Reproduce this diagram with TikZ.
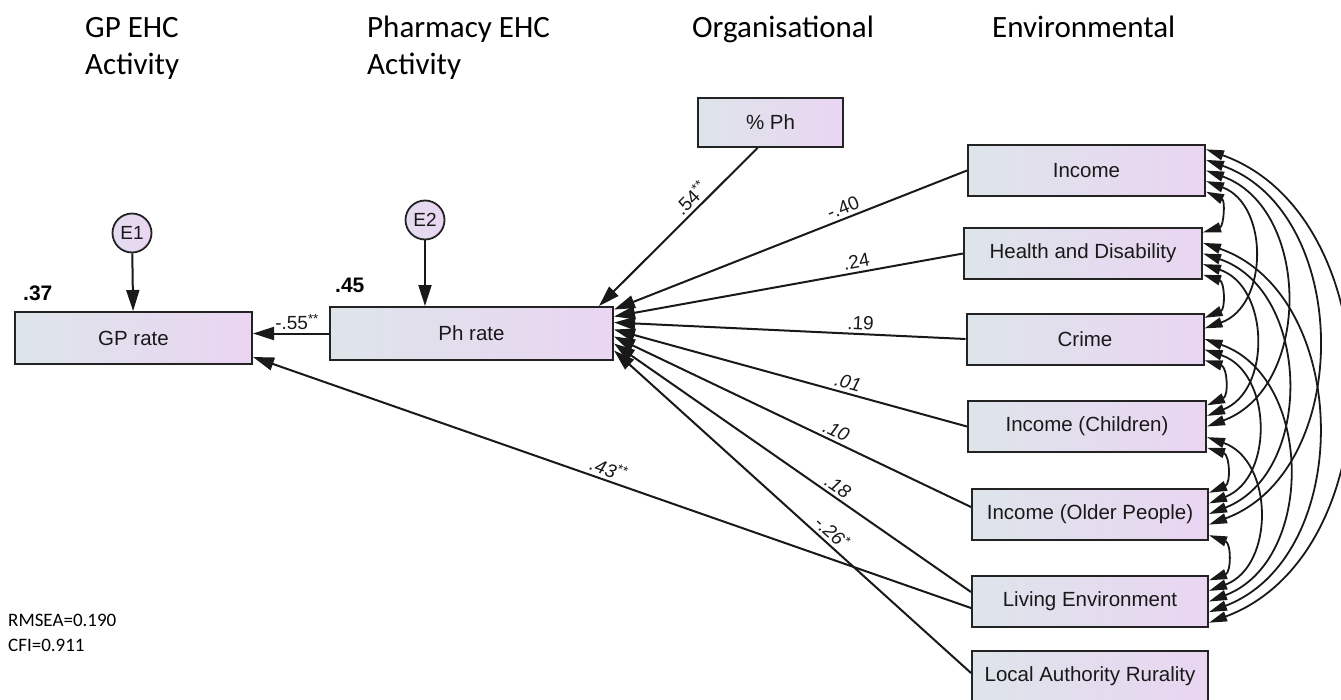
\documentclass[tikz,border=0pt]{standalone}
\usepackage{fontspec}
\newfontfamily\calfont{Carlito}
\newfontfamily\arialfont{Liberation Sans}
\usepackage{tikz}
\usetikzlibrary{arrows.meta,calc}
\definecolor{boxleft}{RGB}{221,229,234}
\definecolor{boxright}{RGB}{234,213,242}
\definecolor{edge}{RGB}{35,35,35}
\tikzset{
  var/.style={draw=edge, line width=2pt, left color=boxleft, right color=boxright, minimum width=237pt, minimum height=51pt, inner sep=0pt, font=\arialfont\fontsize{20.5}{24}\selectfont, text=black!90},
  err/.style={circle, draw=edge, line width=1.8pt, left color=boxleft!50!boxright, right color=boxright, minimum size=39pt, inner sep=0pt, font=\arialfont\fontsize{19}{22}\selectfont, text=black!90},
  reg/.style={-{Triangle[length=21pt,width=13pt]}, line width=2pt, draw=black!90},
  cov/.style={{Triangle[length=18pt,width=10pt]}-{Triangle[length=18pt,width=10pt]}, line width=1.8pt, draw=black!90, bend left=70},
  coef/.style={font=\arialfont\fontsize{19}{22}\selectfont, sloped, above, inner sep=3pt, text=black!90},
  ital/.style={font=\arialfont\itshape\fontsize{19}{22}\selectfont},
  head/.style={font=\calfont\fontsize{31}{37}\selectfont, align=left, anchor=base west, inner sep=0pt},
  rsq/.style={font=\arialfont\bfseries\fontsize{21}{24}\selectfont, anchor=base west, inner sep=0pt},
  stat/.style={font=\calfont\fontsize{19}{25}\selectfont, align=left, anchor=base west, inner sep=0pt}}

\begin{document}
\begin{tikzpicture}[x=1pt,y=1pt]
  \useasboundingbox (0,0) rectangle (1341,-699);
  % headings (base = last line)
  \node[head] (hgp) at (85,-74) {GP EHC\\Activity};
  \node[head] (hph) at (367,-74) {Pharmacy EHC\\Activity};
  \node[head] (horg) at (692,-37) {Organisational};
  \node[head] (henv) at (992,-37) {Environmental};
  % observed variables
  \node[var, minimum height=52pt] (gp) at (133.5,-338) {GP rate};
  \node[var, minimum width=283pt, minimum height=53pt] (ph) at (471.5,-333.5) {Ph rate};
  \node[var, minimum width=145pt, minimum height=49pt] (pph) at (770.5,-122.5) {\% Ph};
  \node[var] (v1) at (1086.5,-170.5) {Income};
  \node[var, minimum width=238pt] (v2) at (1083,-253.5) {Health and Disability};
  \node[var] (v3) at (1085,-339) {Crime};
  \node[var, minimum width=238pt] (v4) at (1087,-426.5) {Income (Children)};
  \node[var, minimum width=236pt] (v5) at (1090,-514) {Income (Older People)};
  \node[var, minimum width=236pt] (v6) at (1090,-601.5) {Living Environment};
  \node[var, minimum width=236pt] (lar) at (1090,-676.5) {Local Authority Rurality};
  % errors and R squared
  \node[err] (e1) at (132,-233) {E1};
  \node[err] (e2) at (425,-220) {E2};
  \node[rsq] (r1) at (23,-300) {.37};
  \node[rsq] (r2) at (335,-292) {.45};
  % regression paths
  \draw[reg] (e1) -- (gp);
  \draw[reg] (e2) -- (e2 |- ph.north);
  \draw[reg] (ph.west) -- node[coef, pos=0.42] {-.55\textsuperscript{**}} (gp.east |- ph.west);
  \draw[reg] ([xshift=-13pt]pph.south) -- node[coef, pos=0.37] {.54\textsuperscript{**}} ([xshift=-15pt]ph.north east);
  \draw[reg] (v1.west) -- node[coef, pos=0.34] {-.40} ([yshift=24pt]ph.east);
  \draw[reg] (v2.west) -- node[coef, pos=0.30] {.24} ([yshift=17pt]ph.east);
  \draw[reg] (v3.west) -- node[coef, pos=0.30] {.19} ([yshift=11pt]ph.east);
  \draw[reg] (v4.west) -- node[coef, ital, pos=0.345] {.01} ([yshift=4pt]ph.east);
  \draw[reg] ([yshift=7pt]v5.west) -- node[coef, ital, pos=0.39] {.10} ([yshift=-3pt]ph.east);
  \draw[reg] ([yshift=9.5pt]v6.west) -- node[coef, ital, pos=0.39] {.18} ([yshift=-10pt]ph.east);
  \draw[reg] ([yshift=3.5pt]lar.west) -- node[coef, ital, pos=0.41] {-.26\textsuperscript{*}} ([yshift=-17pt]ph.east);
  \draw[reg] ([yshift=-6.5pt]v6.west) -- node[coef, ital, pos=0.51] {.43\textsuperscript{**}} ([yshift=-19pt]gp.east);
  % covariances
  \foreach \i in {1,...,5}{
    \pgfmathtruncatemacro{\nxt}{\i+1}
    \foreach \j in {\nxt,...,6}{
      \pgfmathsetmacro{\posa}{(\i+5-\j+0.5)/5}
      \pgfmathsetmacro{\posb}{(\j-1-\i+0.5)/5}
      \pgfmathsetmacro{\loose}{1+0.35/(\j-\i)}
      \draw[cov, looseness=\loose] ($(v\i.north east)!\posa!(v\i.south east)$) to ($(v\j.north east)!\posb!(v\j.south east)$);
    }
  }
  % fit
  \node[stat] (fitstat) at (8,-651) {RMSEA=0.190\\CFI=0.911};
\end{tikzpicture}
\end{document}
